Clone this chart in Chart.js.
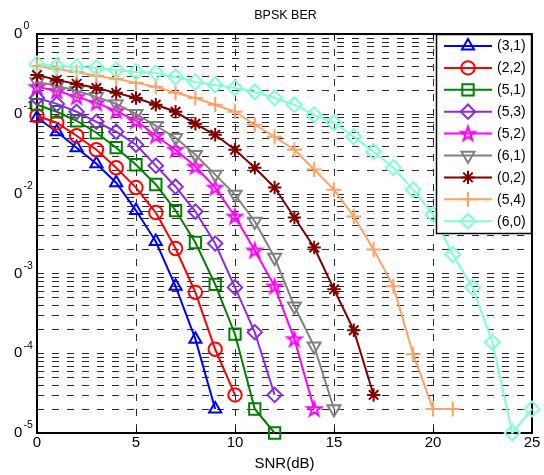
<!DOCTYPE html>
<html><head><meta charset="utf-8">
<script src="https://cdn.jsdelivr.net/npm/chart.js@4/dist/chart.umd.min.js"></script>
<style>html,body{margin:0;padding:0;background:#fff;}canvas{display:block;}</style>
</head><body>
<canvas id="c" width="544" height="475"></canvas>
<script>
// ---- data ----
const snr = [0,1,2,3,4,5,6,7,8,9,10,11,12,13,14,15,16,17,18,19,20,21,22,23,24,25];
const seriesLabels = ['(3,1)','(2,2)','(5,1)','(5,3)','(5,2)','(6,1)','(0,2)','(5,4)','(6,0)'];
const ber31 = [0.0891,0.0596,0.0376,0.0237,0.0137,0.00613,0.00251,6.88e-4,1.50e-4,2e-5];
const ber22 = [0.0944,0.0772,0.0531,0.0355,0.0211,0.0119,0.00579,0.00205,5.79e-4,1.12e-4,3e-5];
const ber51 = [0.130,0.106,0.0818,0.0579,0.0376,0.0230,0.0130,0.00613,0.00244,7.29e-4,1.73e-4,2e-5,1e-5];
const ber53 = [0.158,0.133,0.106,0.0794,0.0596,0.041,0.0224,0.0122,0.00596,0.00237,6.68e-4,1.83e-4,3e-5];
const ber52 = [0.2175,0.194,0.163,0.137,0.109,0.0818,0.0531,0.0355,0.0218,0.0119,0.00516,0.00194,6.88e-4,1.50e-4,2e-5];
const ber61 = [0.251,0.224,0.194,0.163,0.133,0.100,0.0708,0.0501,0.0307,0.0173,0.00972,0.00447,0.00158,3.87e-4,1.22e-4,2e-5];
const ber02 = [0.307,0.266,0.237,0.211,0.183,0.158,0.130,0.106,0.075,0.0546,0.0355,0.0211,0.0119,0.00501,0.00211,6.31e-4,1.94e-4,3e-5];
const ber54 = [0.398,0.365,0.335,0.299,0.274,0.244,0.2175,0.183,0.158,0.130,0.106,0.0729,0.0516,0.0355,0.0200,0.0112,0.00516,0.0020,6.88e-4,9.72e-5,2e-5,2e-5];
const ber60 = [0.422,0.398,0.387,0.376,0.355,0.335,0.326,0.290,0.251,0.230,0.211,0.188,0.158,0.130,0.0972,0.0772,0.0516,0.0335,0.0211,0.0112,0.00546,0.00173,6.68e-4,1.37e-4,1e-5,2e-5];
const xTicks = [0,5,10,15,20,25];
const yDecades = [1,1e-1,1e-2,1e-3,1e-4,1e-5];
const yExponents = ['0','-1','-2','-3','-4','-5'];
const titleText = 'BPSK BER';
const xTitle = 'SNR(dB)';

// ---- styles ----
const FONT = "'Liberation Sans', Arial, Helvetica, sans-serif";
Chart.defaults.font.family = FONT;
Chart.defaults.color = '#000';

function pentagram(color){
  const c = document.createElement('canvas'); c.width = 20; c.height = 20;
  const g = c.getContext('2d'); const R = 7.4, r = R*0.382;
  g.beginPath();
  for (let i=0;i<10;i++){ const rad = (i%2?r:R); const a = -Math.PI/2 + i*Math.PI/5;
    const px = 10 + rad*Math.cos(a), py = 10.5 + rad*Math.sin(a);
    if(i===0) g.moveTo(px,py); else g.lineTo(px,py); }
  g.closePath(); g.lineWidth = 2; g.strokeStyle = color; g.lineJoin='miter'; g.stroke();
  return c;
}

const styles = [
  {color:'#0000ff', pointStyle:'triangle', radius:7, rotation:0},
  {color:'#ff0000', pointStyle:'circle', radius:6.7, rotation:0},
  {color:'#008000', pointStyle:'rect', radius:8, rotation:0},
  {color:'#8b2be2', pointStyle:'rectRot', radius:7.2, rotation:0},
  {color:'#ff00ff', pointStyle:pentagram('#ff00ff'), radius:7, rotation:0},
  {color:'#808080', pointStyle:'triangle', radius:7.5, rotation:180},
  {color:'#800000', pointStyle:'star', radius:6.7, rotation:0},
  {color:'#ffa064', pointStyle:'cross', radius:7.5, rotation:0},
  {color:'#7fffd4', pointStyle:'rectRot', radius:7.5, rotation:0}
];
const allSeries = [ber31,ber22,ber51,ber53,ber52,ber61,ber02,ber54,ber60];

const datasets = allSeries.map((vals,i)=>({
  label: seriesLabels[i],
  data: vals.map((v,j)=>({x:snr[j], y:v})),
  borderColor: styles[i].color,
  backgroundColor: 'rgba(0,0,0,0)',
  pointBackgroundColor: 'rgba(0,0,0,0)',
  pointBorderColor: styles[i].color,
  borderWidth: 2,
  pointBorderWidth: 2,
  pointStyle: styles[i].pointStyle,
  pointRadius: styles[i].radius,
  pointRotation: styles[i].rotation,
  tension: 0,
  fill: false,
  clip: false,
  order: allSeries.length - 1 - i
}));

function drawMarker(ctx, st, x, y){
  ctx.save();
  ctx.strokeStyle = st.color; ctx.fillStyle = 'rgba(0,0,0,0)'; ctx.lineWidth = 2;
  if (Chart.helpers && Chart.helpers.drawPoint) {
    Chart.helpers.drawPoint(ctx, {pointStyle: st.pointStyle, radius: st.radius, rotation: st.rotation, borderWidth: 2}, x, y);
  }
  ctx.restore();
}

const framePlugin = {
  id: 'frame',
  beforeDatasetsDraw(chart){
    const {ctx, chartArea:a, scales:{x, y}} = chart;
    ctx.save();
    ctx.strokeStyle = '#2b2b2b'; ctx.lineWidth = 1; ctx.setLineDash([7,8]);
    for (let d=1; d<yDecades.length; d++){
      const base = yDecades[d];
      for (let m=2; m<=9; m++){
        const py = Math.round(y.getPixelForValue(base*m)) + 0.5;
        ctx.beginPath(); ctx.moveTo(a.left, py); ctx.lineTo(a.right, py); ctx.stroke();
      }
      if (d < yDecades.length-1){
        const py = Math.round(y.getPixelForValue(base)) + 0.5;
        ctx.beginPath(); ctx.moveTo(a.left, py); ctx.lineTo(a.right, py); ctx.stroke();
      }
    }
    xTicks.slice(1,-1).forEach(t=>{
      const px = Math.round(x.getPixelForValue(t)) + 0.5;
      ctx.beginPath(); ctx.moveTo(px, a.top); ctx.lineTo(px, a.bottom); ctx.stroke();
    });
    ctx.setLineDash([]);
    ctx.strokeStyle = '#000'; ctx.lineWidth = 1;
    xTicks.forEach(t=>{
      const px = Math.round(x.getPixelForValue(t)) + 0.5;
      ctx.beginPath(); ctx.moveTo(px, a.bottom); ctx.lineTo(px, a.bottom-5);
      ctx.moveTo(px, a.top); ctx.lineTo(px, a.top+5); ctx.stroke();
    });
    ctx.strokeStyle = '#000'; ctx.lineWidth = 2;
    ctx.strokeRect(Math.round(a.left), Math.round(a.top), Math.round(a.right)-Math.round(a.left), Math.round(a.bottom)-Math.round(a.top));
    ctx.restore();
  },
  afterDatasetsDraw(chart){
    const {ctx, chartArea:a} = chart;
    const w = 96, h = 200;
    const L = a.right - w, T = a.top;
    ctx.save();
    ctx.fillStyle = '#fff'; ctx.fillRect(L, T, w, h);
    ctx.strokeStyle = '#000'; ctx.lineWidth = 1.5;
    ctx.strokeRect(L+0.5, T+0.5, w-1, h-1);
    ctx.font = '14px ' + FONT; ctx.textBaseline = 'middle'; ctx.textAlign = 'left';
    seriesLabels.forEach((lab,i)=>{
      const yy = T + 12 + i*21.9;
      const st = styles[i];
      ctx.strokeStyle = st.color; ctx.lineWidth = 2;
      ctx.beginPath(); ctx.moveTo(L+8, yy); ctx.lineTo(L+56, yy); ctx.stroke();
      drawMarker(ctx, st, L+32, yy);
      ctx.fillStyle = '#000';
      ctx.fillText(lab, L+61, yy+0.5);
    });
    ctx.restore();
  },
  afterDraw(chart){
    const {ctx, chartArea:a, scales:{y}} = chart;
    ctx.save();
    ctx.fillStyle = '#000';
    ctx.textBaseline = 'middle';
    ctx.font = '12.5px ' + FONT; ctx.textAlign = 'center';
    ctx.fillText(titleText, (a.left+a.right)/2 + 1, 16);
    yDecades.forEach((v,i)=>{
      const py = y.getPixelForValue(v);
      ctx.font = '15px ' + FONT; ctx.textAlign = 'left';
      ctx.fillText('0', 14, py);
      ctx.font = '10.5px ' + FONT;
      ctx.fillText(yExponents[i], 23.5, py - 7.5);
    });
    ctx.restore();
  }
};

new Chart(document.getElementById('c'), {
  type: 'line',
  data: { datasets },
  options: {
    responsive: false, animation: false, devicePixelRatio: 1,
    layout: { padding: { top: 34, right: 12, left: 0, bottom: 0 } },
    plugins: { legend: { display: false }, title: { display: false }, tooltip: { enabled: false } },
    scales: {
      x: {
        type: 'linear', min: xTicks[0], max: xTicks[xTicks.length-1],
        afterBuildTicks: s => { s.ticks = xTicks.map(v=>({value:v})); },
        afterFit: s => { s.height = 42; s.paddingLeft = 0; s.paddingRight = 0; },
        grid: { display: false, drawTicks: false }, border: { display: false },
        ticks: { font: { size: 15 }, color: '#000', padding: 1, maxRotation: 0, callback: v => String(v) },
        title: { display: true, text: xTitle, font: { size: 15 }, color: '#000', padding: { top: 0, bottom: 2 } }
      },
      y: {
        type: 'logarithmic', min: yDecades[yDecades.length-1], max: yDecades[0],
        afterFit: s => { s.width = 37; s.paddingTop = 0; s.paddingBottom = 0; },
        grid: { display: false, drawTicks: false }, border: { display: false },
        ticks: { display: false }
      }
    }
  },
  plugins: [framePlugin]
});
</script>
</body></html>
